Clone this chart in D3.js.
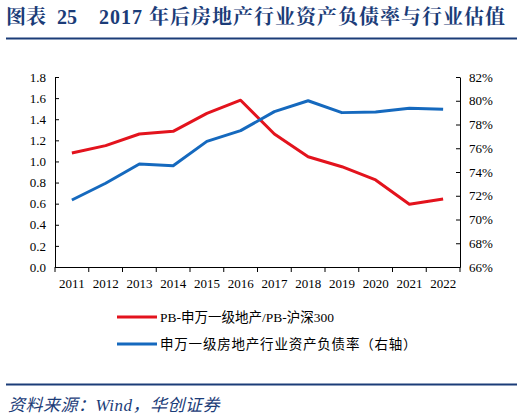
<!DOCTYPE html>
<html>
<head>
<meta charset="utf-8">
<script src="https://cdn.jsdelivr.net/npm/d3@7"></script>
<style>
  body { margin: 0; background: #fff; }
  svg { display: block; }
</style>
</head>
<body>
<script>
var years = ["2011","2012","2013","2014","2015","2016","2017","2018","2019","2020","2021","2022"];
// PB ratio, left axis
var pbRatio = [1.08, 1.15, 1.26, 1.285, 1.455, 1.58, 1.26, 1.045, 0.95, 0.825, 0.595, 0.645];
// debt ratio (%), right axis
var debtRatio = [71.64, 73.05, 74.67, 74.53, 76.58, 77.48, 79.08, 80.0, 79.0, 79.05, 79.36, 79.28];
var leftTicks = [0, 0.2, 0.4, 0.6, 0.8, 1.0, 1.2, 1.4, 1.6, 1.8];
var rightTicks = [66, 68, 70, 72, 74, 76, 78, 80, 82];
var legendNames = ["PB-申万一级地产/PB-沪深300", "申万一级房地产行业资产负债率（右轴）"];

var width = 524, height = 419;
var navy = "#1b3c78";
var serif = "'Liberation Serif', 'Noto Sans CJK SC', serif";

var svg = d3.select("body").append("svg")
  .attr("width", width)
  .attr("height", height);

// title, three pieces
var title = svg.append("text")
  .attr("y", 24)
  .attr("fill", navy)
  .attr("font-family", "'Liberation Serif', 'Noto Serif CJK SC', 'Noto Sans CJK SC', serif")
  .attr("font-weight", "bold")
  .attr("font-size", 20);
title.append("tspan").attr("x", 6).text("图表");
title.append("tspan").attr("x", 57).text("25");
title.append("tspan").attr("x", 99).attr("letter-spacing", 1).text("2017 年后房地产行业资产负债率与行业估值");

svg.append("line")
  .attr("x1", 6).attr("x2", 517).attr("y1", 38.5).attr("y2", 38.5)
  .attr("stroke", navy).attr("stroke-width", 2.2);

var x = d3.scaleBand().domain(years).range([55, 460]);
var yL = d3.scaleLinear().domain([0, 1.8]).range([267, 77]);
var yR = d3.scaleLinear().domain([66, 82]).range([267, 77]);

function styleAxis(g) {
  g.selectAll("path, line").attr("stroke", "#000").attr("stroke-width", 1);
  g.selectAll("text")
    .attr("font-family", serif)
    .attr("font-size", 13)
    .attr("fill", "#000");
}

svg.append("g")
  .attr("transform", "translate(0,267)")
  .call(d3.axisBottom(x).tickSize(0).tickPadding(12).tickSizeOuter(0))
  .call(styleAxis);

// x tick marks at band boundaries, pointing down
svg.append("g").selectAll("line")
  .data(years.concat(["end"]))
  .enter().append("line")
  .attr("x1", (d, i) => x.range()[0] + i * x.step())
  .attr("x2", (d, i) => x.range()[0] + i * x.step())
  .attr("y1", 267).attr("y2", 272)
  .attr("stroke", "#000");

svg.append("g")
  .attr("transform", "translate(55,0)")
  .call(d3.axisLeft(yL).tickValues(leftTicks).tickFormat(d3.format(".1f")).tickSize(4).tickSizeOuter(0).tickPadding(5))
  .call(styleAxis)
  .call(g => g.selectAll(".tick line").attr("x2", 4));

svg.append("g")
  .attr("transform", "translate(460,0)")
  .call(d3.axisRight(yR).tickValues(rightTicks).tickFormat(d => d + "%").tickSize(4).tickSizeOuter(0).tickPadding(5))
  .call(styleAxis)
  .call(g => g.selectAll(".tick line").attr("x2", -4));

var cx = d => x(d) + x.bandwidth() / 2;

svg.append("path")
  .datum(pbRatio)
  .attr("fill", "none")
  .attr("stroke", "#e3131d")
  .attr("stroke-width", 3)
  .attr("stroke-linejoin", "round")
  .attr("d", d3.line().x((d, i) => cx(years[i])).y(d => yL(d)));

svg.append("path")
  .datum(debtRatio)
  .attr("fill", "none")
  .attr("stroke", "#1569be")
  .attr("stroke-width", 3)
  .attr("stroke-linejoin", "round")
  .attr("d", d3.line().x((d, i) => cx(years[i])).y(d => yR(d)));

// legend
var legendColors = ["#e3131d", "#1569be"];
var leg = svg.append("g").selectAll("g")
  .data(legendNames)
  .enter().append("g")
  .attr("transform", (d, i) => "translate(117," + (317 + i * 27) + ")");
leg.append("line")
  .attr("x1", 0).attr("x2", 40)
  .attr("stroke", (d, i) => legendColors[i])
  .attr("stroke-width", 3);
leg.append("text")
  .attr("x", 43).attr("y", 5)
  .attr("font-family", serif)
  .attr("font-size", 13.5)
  .attr("letter-spacing", (d, i) => i === 1 ? 0.8 : 0)
  .attr("fill", "#000")
  .text(d => d);

svg.append("line")
  .attr("x1", 6).attr("x2", 517).attr("y1", 384.5).attr("y2", 384.5)
  .attr("stroke", navy).attr("stroke-width", 1.8);

svg.append("text")
  .attr("x", 8).attr("y", 411)
  .attr("fill", navy)
  .attr("font-family", "'Liberation Serif', 'Noto Sans CJK SC', serif")
  .attr("font-style", "italic")
  .attr("font-size", 17)
  .attr("letter-spacing", 0.5)
  .text("资料来源：Wind，华创证券");
</script>
</body>
</html>
